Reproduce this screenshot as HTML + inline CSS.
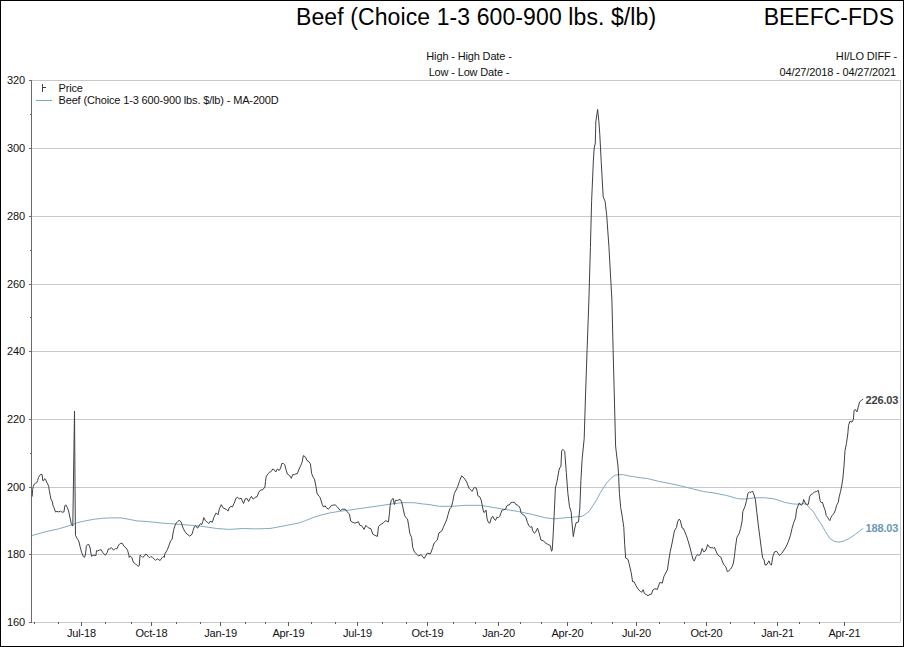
<!DOCTYPE html>
<html><head><meta charset="utf-8"><style>
html,body{margin:0;padding:0;background:#fff;}
#f{position:relative;width:904px;height:647px;box-sizing:border-box;border:1px solid #000;overflow:hidden;background:#fff;}
svg{position:absolute;left:-1px;top:-1px;}
.s{font-family:"Liberation Sans",sans-serif;font-size:11px;fill:#111;letter-spacing:-0.15px;}
.t{font-family:"Liberation Sans",sans-serif;font-size:23px;fill:#000;}
</style></head><body><div id="f">
<svg width="904" height="647" viewBox="0 0 904 647">
<g shape-rendering="crispEdges">
<rect x="32" y="148" width="868" height="1" fill="#c8c8c8"/>
<rect x="32" y="216" width="868" height="1" fill="#c8c8c8"/>
<rect x="32" y="284" width="868" height="1" fill="#c8c8c8"/>
<rect x="32" y="351" width="868" height="1" fill="#c8c8c8"/>
<rect x="32" y="419" width="868" height="1" fill="#c8c8c8"/>
<rect x="32" y="487" width="868" height="1" fill="#c8c8c8"/>
<rect x="32" y="554" width="868" height="1" fill="#c8c8c8"/>
<rect x="31" y="80" width="870" height="1" fill="#c8c8c8"/>
<rect x="900" y="80" width="1" height="542" fill="#c8c8c8"/>
<rect x="32" y="622" width="868" height="1" fill="#c8c8c8"/>
<rect x="31" y="80" width="1" height="543" fill="#6a6a6a"/>
<rect x="29" y="80" width="2" height="1" fill="#6a6a6a"/>
<rect x="29" y="148" width="2" height="1" fill="#6a6a6a"/>
<rect x="29" y="216" width="2" height="1" fill="#6a6a6a"/>
<rect x="29" y="284" width="2" height="1" fill="#6a6a6a"/>
<rect x="29" y="351" width="2" height="1" fill="#6a6a6a"/>
<rect x="29" y="419" width="2" height="1" fill="#6a6a6a"/>
<rect x="29" y="487" width="2" height="1" fill="#6a6a6a"/>
<rect x="29" y="554" width="2" height="1" fill="#6a6a6a"/>
<rect x="29" y="622" width="2" height="1" fill="#6a6a6a"/>
<rect x="30" y="114" width="1" height="1" fill="#6a6a6a"/>
<rect x="30" y="250" width="1" height="1" fill="#6a6a6a"/>
<rect x="30" y="317" width="1" height="1" fill="#6a6a6a"/>
<rect x="30" y="453" width="1" height="1" fill="#6a6a6a"/>
<rect x="34" y="622" width="1" height="2" fill="#5a5a5a"/>
<rect x="58" y="622" width="1" height="2" fill="#5a5a5a"/>
<rect x="81" y="622" width="1" height="4" fill="#5a5a5a"/>
<rect x="105" y="622" width="1" height="2" fill="#5a5a5a"/>
<rect x="131" y="622" width="1" height="2" fill="#5a5a5a"/>
<rect x="151" y="622" width="1" height="4" fill="#5a5a5a"/>
<rect x="176" y="622" width="1" height="2" fill="#5a5a5a"/>
<rect x="200" y="622" width="1" height="2" fill="#5a5a5a"/>
<rect x="220" y="622" width="1" height="4" fill="#5a5a5a"/>
<rect x="245" y="622" width="1" height="2" fill="#5a5a5a"/>
<rect x="265" y="622" width="1" height="2" fill="#5a5a5a"/>
<rect x="288" y="622" width="1" height="4" fill="#5a5a5a"/>
<rect x="311" y="622" width="1" height="2" fill="#5a5a5a"/>
<rect x="335" y="622" width="1" height="2" fill="#5a5a5a"/>
<rect x="357" y="622" width="1" height="4" fill="#5a5a5a"/>
<rect x="382" y="622" width="1" height="2" fill="#5a5a5a"/>
<rect x="406" y="622" width="1" height="2" fill="#5a5a5a"/>
<rect x="427" y="622" width="1" height="4" fill="#5a5a5a"/>
<rect x="453" y="622" width="1" height="2" fill="#5a5a5a"/>
<rect x="475" y="622" width="1" height="2" fill="#5a5a5a"/>
<rect x="498" y="622" width="1" height="4" fill="#5a5a5a"/>
<rect x="520" y="622" width="1" height="2" fill="#5a5a5a"/>
<rect x="541" y="622" width="1" height="2" fill="#5a5a5a"/>
<rect x="567" y="622" width="1" height="4" fill="#5a5a5a"/>
<rect x="591" y="622" width="1" height="2" fill="#5a5a5a"/>
<rect x="612" y="622" width="1" height="2" fill="#5a5a5a"/>
<rect x="636" y="622" width="1" height="4" fill="#5a5a5a"/>
<rect x="659" y="622" width="1" height="2" fill="#5a5a5a"/>
<rect x="684" y="622" width="1" height="2" fill="#5a5a5a"/>
<rect x="706" y="622" width="1" height="4" fill="#5a5a5a"/>
<rect x="730" y="622" width="1" height="2" fill="#5a5a5a"/>
<rect x="754" y="622" width="1" height="2" fill="#5a5a5a"/>
<rect x="777" y="622" width="1" height="4" fill="#5a5a5a"/>
<rect x="799" y="622" width="1" height="2" fill="#5a5a5a"/>
<rect x="819" y="622" width="1" height="2" fill="#5a5a5a"/>
<rect x="844" y="622" width="1" height="4" fill="#5a5a5a"/>
</g>
<text x="25" y="84" text-anchor="end" class="s">320</text>
<text x="25" y="152" text-anchor="end" class="s">300</text>
<text x="25" y="220" text-anchor="end" class="s">280</text>
<text x="25" y="288" text-anchor="end" class="s">260</text>
<text x="25" y="355" text-anchor="end" class="s">240</text>
<text x="25" y="423" text-anchor="end" class="s">220</text>
<text x="25" y="491" text-anchor="end" class="s">200</text>
<text x="25" y="558" text-anchor="end" class="s">180</text>
<text x="25" y="626" text-anchor="end" class="s">160</text>
<text x="81.5" y="637" text-anchor="middle" class="s">Jul-18</text>
<text x="151.5" y="637" text-anchor="middle" class="s">Oct-18</text>
<text x="220.5" y="637" text-anchor="middle" class="s">Jan-19</text>
<text x="288.5" y="637" text-anchor="middle" class="s">Apr-19</text>
<text x="357.5" y="637" text-anchor="middle" class="s">Jul-19</text>
<text x="427.5" y="637" text-anchor="middle" class="s">Oct-19</text>
<text x="498.5" y="637" text-anchor="middle" class="s">Jan-20</text>
<text x="567.5" y="637" text-anchor="middle" class="s">Apr-20</text>
<text x="636.5" y="637" text-anchor="middle" class="s">Jul-20</text>
<text x="706.5" y="637" text-anchor="middle" class="s">Oct-20</text>
<text x="777.5" y="637" text-anchor="middle" class="s">Jan-21</text>
<text x="844.5" y="637" text-anchor="middle" class="s">Apr-21</text>
<text x="296" y="25" class="t" style="letter-spacing:0.1px">Beef (Choice 1-3 600-900 lbs. $/lb)</text>
<text x="894" y="25" class="t" text-anchor="end">BEEFC-FDS</text>
<text x="469" y="60" class="s" text-anchor="middle">High - High Date -</text>
<text x="469" y="76" class="s" text-anchor="middle">Low - Low Date -</text>
<text x="897" y="60" class="s" text-anchor="end">HI/LO DIFF -</text>
<text x="896" y="76" class="s" text-anchor="end">04/27/2018 - 04/27/2021</text>
<text x="58.5" y="92" class="s">Price</text>
<text x="58.5" y="104" class="s">Beef (Choice 1-3 600-900 lbs. $/lb) - MA-200D</text>
<g shape-rendering="crispEdges">
<rect x="42" y="84" width="1" height="8" fill="#3b3f46"/>
<rect x="43" y="87" width="3" height="1" fill="#3b3f46"/>
<rect x="36" y="100" width="16" height="1" fill="#7aa6bd"/>
</g>
<polyline points="32,535.5 41.3,532.9 49.2,530.9 58.5,528.9 65.2,526.9 71.8,524.9 77.1,522.7 85.1,520.9 94.4,519.2 102.4,518.3 110.3,517.9 121,517.9 128.9,519.3 136.9,520.9 147,521.5 163.7,523.2 181.4,524.5 199.1,525.9 216.8,528.5 229.2,529.4 243.3,528.5 255.7,528.9 269.9,528.5 284,525.9 290,524.7 299.3,522.9 305.5,520.6 313.2,517.5 321,515.1 330.3,512.8 339.6,511.3 352,509.7 364.3,507.9 376.7,506.2 389.1,504.3 401.5,502.7 413.9,502.7 423.2,504 428,504.4 439.3,506.3 452.4,506.3 465.6,505.3 480.7,505.3 491.9,507.2 503.2,509.1 518.3,511.5 533.3,514.7 544.6,517.6 554,518.9 563.4,517.9 572.8,517.2 582.6,516.2 585.4,514.2 589.1,511.4 592.8,505.8 596.6,499.8 600.3,492.8 605.8,484 610.5,478.7 615.1,475.2 618.8,474.6 623.5,474.7 628.1,475.9 633.7,476.6 638,477.5 647.3,478.5 658.6,481.3 669.8,483.5 681.1,486 692.4,488.8 703.7,491.6 715,493.1 726.3,495.4 737.5,498.6 745.1,499.1 754.5,497.8 765.7,497.8 775.2,499.1 784.6,502.3 792.1,503.8 800,504.4 803.4,503.5 806.8,504.8 810.2,508.6 813.6,512 817,518 821.3,524.3 825.5,531.6 829.8,538.4 834,541.3 839.1,542.2 844.2,540.9 849.3,538.4 854.4,535 859.5,531.1 863.3,528.2" fill="none" stroke="#82aac0" stroke-width="1.0" stroke-linejoin="round"/>
<polyline points="32.2,496.6 32.6,489.5 33.3,486.4 34.2,484.2 35.4,483.3 36.7,482.7 37.6,480.5 38.5,477.4 39.7,475.3 41,474.3 42.2,474.7 42.7,480.5 43.5,480.8 44.6,478.7 45.6,479.3 46.6,482.1 47.7,483.9 48.7,486.4 49.3,490.7 50.3,495.7 50.9,499.1 52.4,501.9 53,505.6 54,507.6 55.5,512 57.1,511.4 58.9,512 60.4,511 62,512.2 63.9,512 64.9,505.8 65.7,504.8 67.4,507.6 68.8,512 70.1,518.2 71.3,523.7 72.3,525.6 72.8,526 74.5,411 75.3,522.5 75.5,535.3 77,538.3 78.7,540.8 80,546.3 81.6,552.3 83.3,556.5 84.6,557.4 85.5,554 86.3,546.3 87.6,544.5 88.9,544.6 90.1,548 91,554 91.6,556.5 92.7,555.3 94.8,555.3 95.9,555.7 96.5,550.6 97.8,551 99.1,550.2 101.2,549.7 102.9,552.7 105.4,555.3 107.1,552.7 108.4,548.9 109.7,548.9 111.4,547.6 113.5,550.2 114.8,548.9 115.6,548.5 116.9,548.9 118.6,545.1 120.3,543.4 122.4,543.4 123.7,546 125.4,547.2 127.5,550.2 128.8,554.8 129.2,557.4 130.1,556.1 131.8,557.4 133.4,562.5 135.5,563.8 137.2,565.5 138.5,566.3 139.3,565 140,555.3 141,555.7 142.7,557.4 144.4,556.1 145.7,554 147,554.8 148.3,556.5 149.5,557.8 150.8,556.5 152.5,557.4 154.2,559.1 155.5,560.4 157.2,558.7 158.9,559.9 160.2,560.4 161.9,557.8 163.1,556.5 164.4,557.4 164.8,554 166.1,551.9 167.4,549.7 169.1,545.1 170.6,540.8 172.1,539.5 172.9,534 173.8,529.3 175,525.5 176.3,523 178,521.3 179.3,520.4 181,521.7 181.8,524.2 183.1,528.1 184.8,531.5 186.9,534 187.9,534.7 189.7,536.1 192,534.3 193,530.6 194.3,526.8 195.7,525.9 197.6,528.2 199,525.9 200.4,523.6 201.8,524.5 202.7,521.7 203.8,517.6 205.5,520.8 207.3,522.2 208.7,523.6 210.1,521.3 212.4,522.2 213.8,517.6 216.1,512.9 218,514.8 219.4,508.8 221.3,504.6 223.1,507.8 225,508.8 226.8,509.7 228.2,511.1 229.1,507.8 231,506.4 232.4,506.9 234.2,503.2 236.1,498.1 237.5,497.2 239.3,499 241.2,498.1 242.1,500.4 243.5,503.5 245.4,498.7 247.2,498.7 248.6,501.5 250,498.7 251.4,496.4 253.3,499.2 255.1,497.3 257,496.8 258.8,492.2 260.7,489.9 262.6,489.9 264.9,487.1 265.5,481.5 266.1,476.9 267.7,474.1 269.5,472.3 270.9,471.8 272.8,469 274.1,469.5 275.7,472 277.4,469 279.3,470.4 280.6,468.1 281.8,463.5 283.4,463.5 284.8,464.8 286.2,470.4 287.4,474.1 289.5,475.5 291.3,478.3 292.7,474.6 294.6,474.6 296,473.7 297.3,473.7 298.7,470 300.6,465.8 302,462.5 303.4,455.6 305.5,457 306.9,460.4 309,461.8 310.4,463.9 311.7,473.7 313.1,477.2 314.5,479.2 315.9,486.2 317,493.2 318.7,496 320.1,497.4 322.2,504.3 323.6,507.1 325,505.7 326.4,507.8 328.5,509.2 331.2,505.7 333.3,505 335.4,505 337.5,507.1 340.3,510.6 342.4,509.2 345.2,509.2 348,512.7 349.4,514.1 350.7,521 352.8,522.4 354.9,523.1 357,522.4 358.4,521.7 359.8,525.2 361.7,525.9 364.1,529.4 365.8,525.3 368.1,527.7 371,528.8 372.7,534 374.5,535.2 377.4,536.4 378.5,526.5 380.3,524.8 383.2,523 385.5,520.7 388.4,521.9 389.5,513.2 390.1,505.6 391.3,500.4 393,498.3 394.5,504.5 395.3,500.4 397.7,500.4 400,499.3 401.5,501.6 402.9,507.4 404.6,515.5 406.1,517.8 407.5,519 408.7,525.9 409.8,533.5 411.6,537.5 412.7,547.4 414.5,552 416.8,554.3 418.5,556 421.1,554.6 424.2,558.5 427.3,553.1 430.4,553.9 432.7,547.7 434.2,543 437.3,540 438.9,533 442,530.7 443.5,526.8 446.6,519.9 448.1,514.5 449.7,509 451.2,507.5 452.8,501.3 454.3,493.6 457.4,487.4 459.7,480.5 461.7,475.8 464.1,478.1 466.7,482 469,488.2 472.1,491.3 474.4,487.4 476.4,488.2 476.9,490.2 477.9,495.8 479.7,496.7 481.1,499.9 482,504.1 483,509.7 483.9,512.5 484.8,512 486,510.1 487.1,519 488.5,522.7 489.9,523.1 491.3,518 492.7,516.2 494.1,519 495.5,520.4 496.9,517.1 498.3,517.6 499.7,516.6 500.6,513.9 502,510.1 503.8,509.7 505.7,509.2 506.6,506 508,505 509.4,505 510.8,502.7 512.6,502.3 514.5,502.3 515.9,504.6 517.3,505 518.7,506 520.1,508.3 521,512.5 522.4,514.3 524.7,515.7 526.1,518 527.5,522.7 529.3,526.4 530.7,527.3 531.7,526.4 532.6,530.6 534.4,533.3 535.4,532.4 537.5,528.2 538.9,532.4 541,540.1 543.4,540.7 545.5,543.2 547.6,544.2 550.4,545.6 551.4,551.2 552.2,550.5 553.1,535.9 553.8,522 554.4,509.8 555.4,487.9 557,481.4 559,470 559.8,467.6 560.9,466.8 561.7,450.6 563,449.4 564.7,451.4 566.3,472.5 567.9,493.6 569.5,506.6 571.2,512.2 572,522.8 573.3,536.6 574.4,530.1 576,522.8 578.5,522 579.8,508.2 580.9,480.6 582,461.1 582.2,458.4 584.2,438.6 585.4,399 587.1,349.5 588.9,300 590.4,247.8 591.6,201.4 593.4,160 594.2,148 595.3,143 595.8,122 597.6,109.4 598.8,120.6 599.8,134.5 601.2,161.4 603.2,196.8 605.1,201.4 606.7,215.3 609,247.8 611.9,300 613.1,349.5 614.4,399 615.6,446 616.6,455 618,466.2 618.7,477.1 619.4,493.3 620.7,507.4 622.3,517.1 623.3,523.9 623.8,527.4 624.7,544.8 625.7,558 628,559.4 629.1,563.6 631.2,572.7 632.6,581.7 634,581.7 636.1,585.9 638.2,589.1 640.3,591.5 641.7,592.2 643.1,589.7 644.5,593.6 645.9,594.3 648,595.7 650,594.3 651.4,594.3 652.8,590.1 654.9,588.7 657.3,589.4 659.8,582.4 662.3,583.1 664,576.2 667.4,569.9 668.8,560.1 670.2,551.8 672.3,542 674.4,530.9 676.5,527.4 677.6,521.9 679,519.2 680.3,520.3 682,527.9 683.4,528.4 684.7,531.6 686.3,535.4 688.4,541.9 690.1,547.9 691.7,554.4 693.3,560.3 694.4,560.9 696,556.5 697.6,554.4 698.9,555.5 700.4,554.4 702.2,548.4 703.6,551.7 705.2,551.1 706.3,549 707.6,544.6 709.5,547.3 711.2,547.9 712.3,547.3 713.3,548.4 714.4,547.3 716,551.1 717.7,554.9 719.3,556.3 720.9,557.1 722.5,562 724.2,565.2 725.8,566.8 727.4,571.7 729,570.6 730.7,569 732.3,566.3 733.4,563 734.4,556.5 735.5,546.8 736.9,537.3 739.1,533.6 740.6,528.5 742.1,521.1 742.8,511.6 745,506.4 746.5,500.6 748,493.2 749.4,492 750.9,492.5 752.4,491 753.8,494 755.3,499.1 756.8,512.3 758.2,524.1 759.7,535.8 761.2,547.5 762.6,557.8 764.1,560 765.1,565.2 767,564.4 768.9,560.8 770,563.7 771.4,565.2 772.9,556.4 774.4,552 776.6,551.2 778.1,553.4 779.5,555.6 781.7,553.4 784.7,549 786.1,546.8 788.3,541.7 790.5,535.1 792,528.5 793.5,523.3 794.2,521.5 795.6,517.8 796.5,509.9 797.9,506.2 799.3,502.9 801.1,505.3 802.5,504.3 803.7,499.5 804.8,502 806.2,504.3 808.4,504.3 809.5,496.9 810.9,494.6 812.7,493.7 814.6,492 816.4,491.5 818.3,490.4 819.2,495 820.1,500.6 821.1,502.5 822.5,502.5 823.9,507.1 825.3,510.8 826.2,515.5 827.6,517.3 829,519.6 829.9,520.6 830.8,517.8 832.2,515.5 834.1,513.1 835.5,509.9 836.4,505.7 838.2,502.5 839.2,496.9 840.6,491.3 841.9,484.8 842.9,478 844,466 845,450.6 846.4,443.6 847.8,433.9 848.5,425.6 849.9,421.4 852,422.1 853.4,419.3 854.1,410.3 855.5,409.6 856.9,411.9 858.3,406.8 859.6,401.9 861.3,400.5 863.1,399.1" fill="none" stroke="#3d4148" stroke-width="1.0" stroke-linejoin="round"/>
<text x="865.5" y="404" class="s" style="font-weight:bold;fill:#3b3f46">226.03</text>
<text x="865.5" y="532" class="s" style="font-weight:bold;fill:#6b98b5">188.03</text>
</svg>
</div></body></html>
